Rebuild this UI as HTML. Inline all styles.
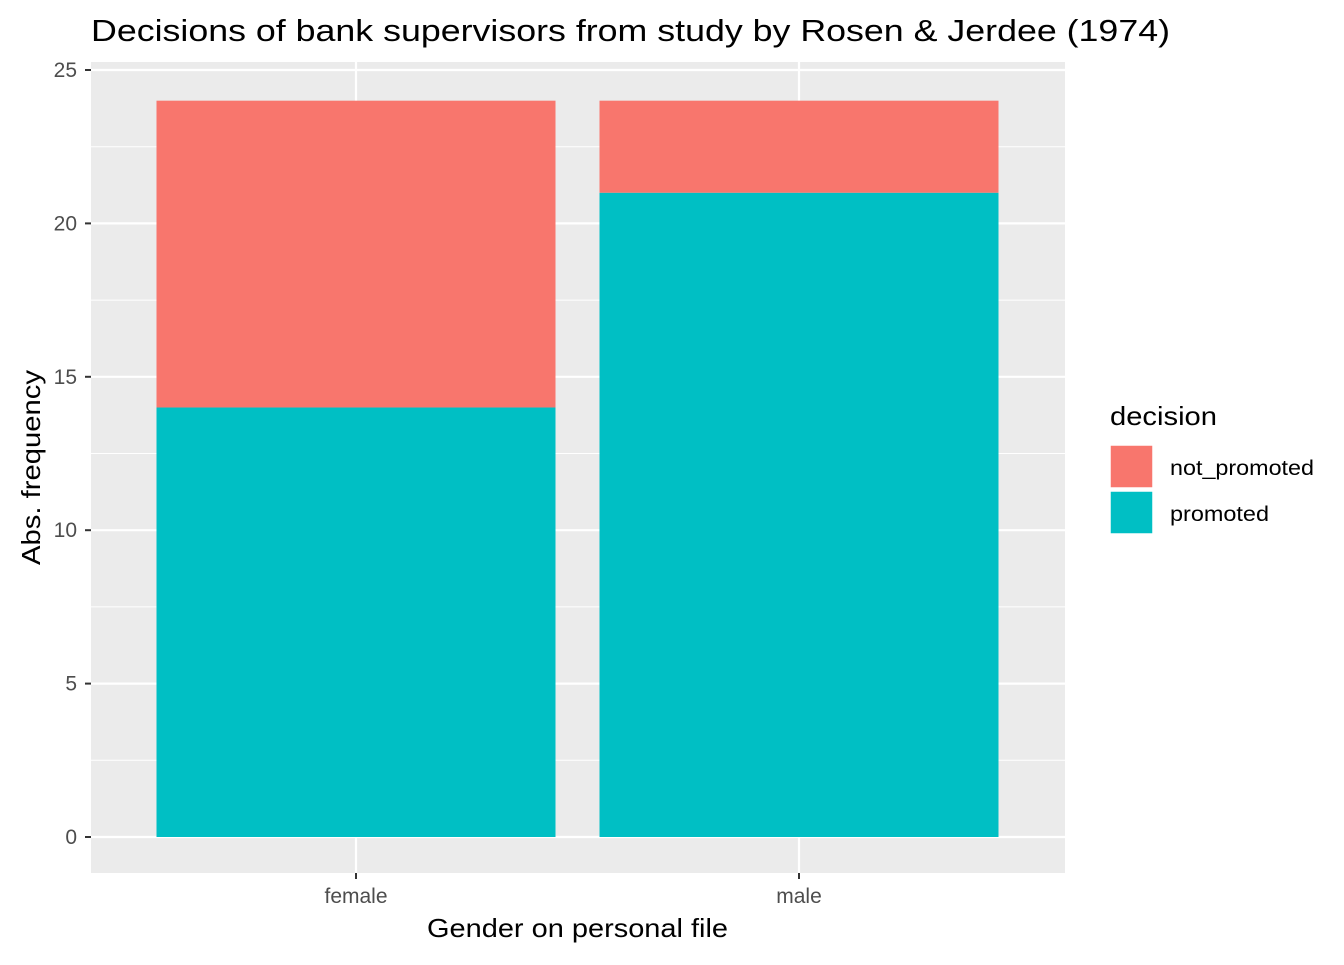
<!DOCTYPE html>
<html><head><meta charset="utf-8"><style>
body{margin:0;background:#fff;font-family:"Liberation Sans",sans-serif}
</style></head><body>
<svg width="1344" height="960" xmlns="http://www.w3.org/2000/svg" font-family="Liberation Sans, sans-serif">
<text x="91" y="41" font-size="31" fill="#000" textLength="1079" lengthAdjust="spacingAndGlyphs">Decisions of bank supervisors from study by Rosen &amp; Jerdee (1974)</text>
<rect x="91" y="62" width="974" height="811" fill="#ebebeb"/>
<g id="grid"></g>
<g id="bars"></g>
<g id="axes"></g>
<text x="427" y="937" font-size="26" textLength="301" lengthAdjust="spacingAndGlyphs">Gender on personal file</text>
<text transform="translate(40,565) rotate(-90)" font-size="26" textLength="195" lengthAdjust="spacingAndGlyphs">Abs. frequency</text>
<text x="1110" y="425" font-size="26" textLength="107" lengthAdjust="spacingAndGlyphs">decision</text>
<rect x="1110" y="445" width="43" height="43" fill="#f8766d" stroke="#fff" stroke-width="1.5"/>
<text x="1170" y="475" font-size="21" textLength="144" lengthAdjust="spacingAndGlyphs">not_promoted</text>
<rect x="1110" y="491" width="43" height="43" fill="#00bfc4" stroke="#fff" stroke-width="1.5"/>
<text x="1170" y="521" font-size="21" textLength="99" lengthAdjust="spacingAndGlyphs">promoted</text>
</svg>
<script>
const categories=["female","male"];
const promoted=[14,21];
const notPromoted=[10,3];
const yTicks=[0,5,10,15,20,25];
const NS="http://www.w3.org/2000/svg";
const y=v=>837-v*30.68;
const xc=i=>356+i*443;
const bw=399;
function mk(tag,attrs,parent){const e=document.createElementNS(NS,tag);for(const k in attrs)e.setAttribute(k,attrs[k]);document.getElementById(parent).appendChild(e);return e;}
for(let i=0;i<yTicks.length;i++){
 const v=yTicks[i];
 if(i<yTicks.length-1){const m=mk('line',{x1:91,x2:1065,y1:y(v+2.5),y2:y(v+2.5),stroke:'#fff','stroke-width':1},'grid');
 }
 const g=mk('line',{x1:91,x2:1065,y1:y(v),y2:y(v),stroke:'#fff','stroke-width':2.2},'grid');
 
 const t=mk('line',{x1:85,x2:91,y1:y(v),y2:y(v),stroke:'#333','stroke-width':2},'axes');
 
 const l=mk('text',{x:77,y:y(v)+7,'font-size':21,fill:'#4d4d4d','text-anchor':'end'},'axes');l.textContent=v;
 
}
categories.forEach((c,i)=>{
 const g=mk('line',{x1:xc(i),x2:xc(i),y1:62,y2:873,stroke:'#fff','stroke-width':2.2},'grid');
 
 const b1=mk('rect',{x:xc(i)-bw/2,width:bw,y:y(promoted[i]),height:y(0)-y(promoted[i]),fill:'#00bfc4'},'bars');
 
 const tot=promoted[i]+notPromoted[i];
 const b2=mk('rect',{x:xc(i)-bw/2,width:bw,y:y(tot),height:y(promoted[i])-y(tot),fill:'#f8766d'},'bars');
 
 const t=mk('line',{x1:xc(i),x2:xc(i),y1:873,y2:879,stroke:'#333','stroke-width':2},'axes');
 
 const l=mk('text',{x:xc(i),y:903,'font-size':21,fill:'#4d4d4d','text-anchor':'middle'},'axes');l.textContent=c;
 
});
</script>
</body></html>
